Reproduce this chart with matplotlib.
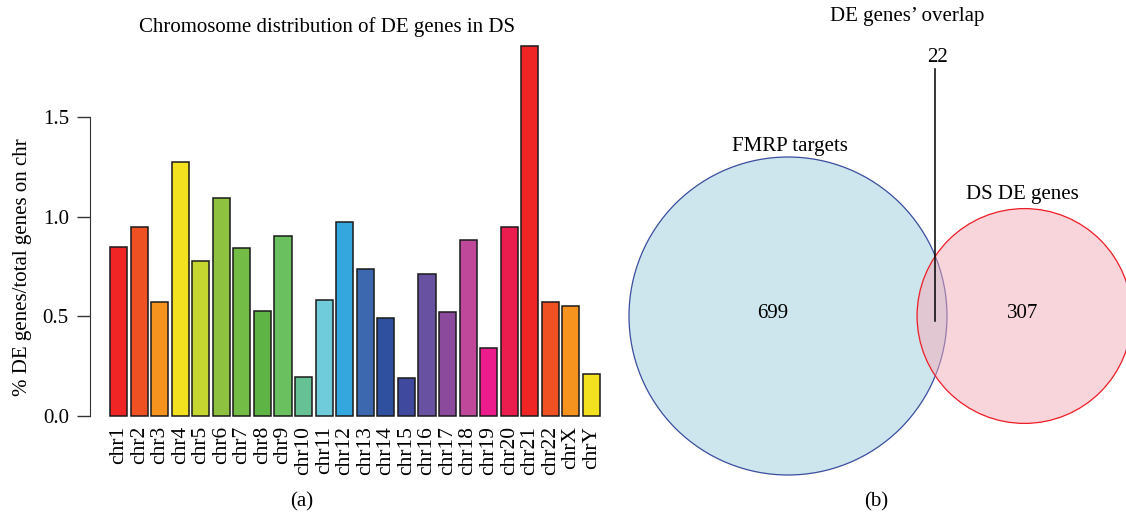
import matplotlib
matplotlib.use("Agg")
from matplotlib import pyplot as plt
from matplotlib.patches import Circle
import numpy as np

# Data
chromosomes = ["chr1", "chr2", "chr3", "chr4", "chr5", "chr6", "chr7", "chr8",
               "chr9", "chr10", "chr11", "chr12", "chr13", "chr14", "chr15",
               "chr16", "chr17", "chr18", "chr19", "chr20", "chr21", "chr22",
               "chrX", "chrY"]
pct_de = [0.848, 0.950, 0.574, 1.275, 0.780, 1.097, 0.843, 0.526, 0.905, 0.198,
          0.583, 0.976, 0.740, 0.494, 0.191, 0.712, 0.521, 0.884, 0.342, 0.948,
          1.861, 0.571, 0.554, 0.213]
bar_colors = ["#EE2524", "#F05123", "#F6931F", "#F3E01F", "#C6D631", "#8DC13F",
              "#73BC45", "#5FB446", "#6ABF5E", "#66C195", "#6FCCDA", "#35A7DF",
              "#3C68AF", "#2F4F9F", "#3F4A9E", "#6951A1", "#8B4A9B", "#C0489B",
              "#EC1C8C", "#EB1D4F", "#EE2524", "#F05123", "#F6931F", "#F3E01F"]

venn_only_fmrp = 699
venn_overlap = 22
venn_only_ds = 307

plt.rcParams["font.family"] = ["Liberation Serif", "DejaVu Serif"]
W, H = 1126, 513
fig = plt.figure(figsize=(W / 100, H / 100), dpi=100)
fs = 15

# ---- panel (a): bar chart ----
def px_box(left, top, right, bottom):
    return [left / W, 1 - bottom / H, (right - left) / W, (bottom - top) / H]

ax = fig.add_axes(px_box(90.4, 30.9, 619.6, 430.8))
x = 0.7 + 1.2 * np.arange(len(pct_de))
ax.bar(x, pct_de, width=1.0, color=bar_colors, edgecolor="#1a1a1a", linewidth=1.1)
ax.set_xlim(-0.944, 29.944)
ax.set_ylim(-0.0744, 1.935)
for s in ["top", "right", "bottom"]:
    ax.spines[s].set_visible(False)
ax.spines["left"].set_bounds(0, 1.5)
ax.spines["left"].set_color("#333333")
ax.set_yticks([0.0, 0.5, 1.0, 1.5])
ax.set_yticklabels(["0.0", "0.5", "1.0", "1.5"])
ax.tick_params(axis="y", length=9.5, width=1.0, color="#333333", pad=6, labelsize=fs)
ax.set_xticks(x)
ax.set_xticklabels(chromosomes, rotation=90, fontsize=15.5)
ax.tick_params(axis="x", length=0, pad=-3.5)
ax.set_ylabel("% DE genes/total genes on chr", fontsize=fs)
ax.yaxis.set_label_coords(-0.110, 0.41)

fig.text(327 / W, 1 - 27 / H, "Chromosome distribution of DE genes in DS",
         ha="center", va="center", fontsize=fs)
fig.text(302 / W, 1 - 502 / H, "(a)", ha="center", va="center", fontsize=fs)

# ---- panel (b): Venn diagram (pixel coordinates) ----
ax2 = fig.add_axes([0, 0, 1, 1])
ax2.set_xlim(0, W)
ax2.set_ylim(H, 0)
ax2.axis("off")
ax2.patch.set_alpha(0)

n1 = venn_only_fmrp + venn_overlap
n2 = venn_only_ds + venn_overlap
k = 159 / np.sqrt(n1)
r1 = k * np.sqrt(n1)
r2 = k * np.sqrt(n2)
target = np.pi * k ** 2 * venn_overlap


def lens_area(d, ra, rb):
    a = (d ** 2 + ra ** 2 - rb ** 2) / (2 * d)
    b = d - a
    seg_a = ra ** 2 * np.arccos(a / ra) - a * np.sqrt(ra ** 2 - a ** 2)
    seg_b = rb ** 2 * np.arccos(b / rb) - b * np.sqrt(rb ** 2 - b ** 2)
    return seg_a + seg_b


lo, hi = r1 - r2 + 1e-6, r1 + r2 - 1e-6
for _ in range(80):
    mid = (lo + hi) / 2
    if lens_area(mid, r1, r2) > target:
        lo = mid
    else:
        hi = mid
d = (lo + hi) / 2

cx1, cy = 788, 316
cx2 = cx1 + d
ax2.add_patch(Circle((cx1, cy), r1, facecolor="#CDE5EC", edgecolor="#3A4DA0", linewidth=0.9))
ax2.add_patch(Circle((cx2, cy), r2, facecolor="#F3ABB9", alpha=0.5, edgecolor="none"))
ax2.add_patch(Circle((cx2, cy), r2, facecolor="none", edgecolor="#EE1C25", linewidth=0.9))

lens_x = ((cx2 - r2) + (cx1 + r1)) / 2 + 3
ax2.plot([lens_x, lens_x], [69, cy + 5], color="black", linewidth=1.1)
ax2.text(lens_x + 2, 57, str(venn_overlap), ha="center", va="center", fontsize=fs)
ax2.text(773, 314, str(venn_only_fmrp), ha="center", va="center", fontsize=fs)
ax2.text(cx2 - 2, 314, str(venn_only_ds), ha="center", va="center", fontsize=fs)
ax2.text(790, 146, "FMRP targets", ha="center", va="center", fontsize=fs)
ax2.text(1022, 195, "DS DE genes", ha="center", va="center", fontsize=fs)
ax2.text(907, 16, "DE genes\u2019 overlap", ha="center", va="center", fontsize=fs)
ax2.text(876, 502, "(b)", ha="center", va="center", fontsize=fs)

fig.savefig("out.png", dpi=100)
